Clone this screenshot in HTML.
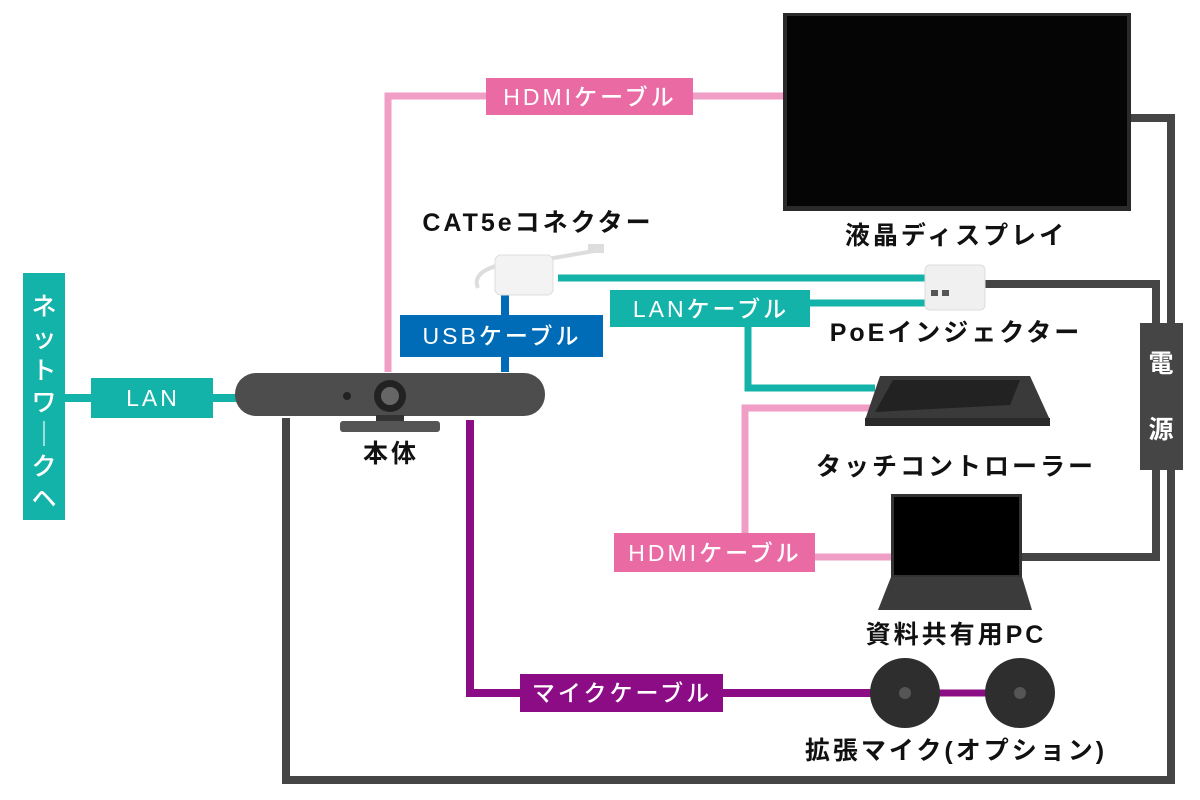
<!DOCTYPE html>
<html><head><meta charset="utf-8"><style>
html,body{margin:0;padding:0;background:#fff;}
svg{display:block;font-family:"Liberation Sans","Noto Sans CJK JP",sans-serif;}
.lb{fill:#fff;font-size:23px;letter-spacing:3px;text-anchor:middle;font-weight:500;}
.bk{fill:#111;font-size:25px;font-weight:bold;text-anchor:middle;letter-spacing:3px;}
</style></head><body>
<svg width="1200" height="800" viewBox="0 0 1200 800">
<polyline points="286,418 286,780 1171,780 1171,118 1128,118" fill="none" stroke="#454545" stroke-width="8"/>
<polyline points="985,284 1156,284 1156,557 1020,557" fill="none" stroke="#454545" stroke-width="8"/>
<line x1="60" y1="398" x2="240" y2="398" stroke="#14b3aa" stroke-width="8"/>
<line x1="558" y1="278" x2="930" y2="278" stroke="#14b3aa" stroke-width="7"/>
<polyline points="930,303 748,303 748,388 875,388" fill="none" stroke="#14b3aa" stroke-width="7"/>
<polyline points="388,372 388,96 786,96" fill="none" stroke="#f19ec6" stroke-width="7"/>
<polyline points="875,408 745,408 745,557 893,557" fill="none" stroke="#f19ec6" stroke-width="7"/>
<line x1="505" y1="285" x2="505" y2="372" stroke="#006cb7" stroke-width="8"/>
<polyline points="470,420 470,693 880,693" fill="none" stroke="#8c0c86" stroke-width="8"/>
<line x1="930" y1="693" x2="1000" y2="693" stroke="#8c0c86" stroke-width="7"/>

<rect x="23" y="273" width="42" height="247" fill="#14b3aa"/>
<text x="44" y="315" class="lb" style="font-size:25px;letter-spacing:0">ネ</text>
<text x="44" y="347" class="lb" style="font-size:25px;letter-spacing:0">ッ</text>
<text x="44" y="379" class="lb" style="font-size:25px;letter-spacing:0">ト</text>
<text x="44" y="411" class="lb" style="font-size:25px;letter-spacing:0">ワ</text>
<text x="44" y="443" class="lb" style="font-size:25px;letter-spacing:0">｜</text>
<text x="44" y="475" class="lb" style="font-size:25px;letter-spacing:0">ク</text>
<text x="44" y="507" class="lb" style="font-size:25px;letter-spacing:0">ヘ</text>
<rect x="91" y="378" width="122" height="40" fill="#14b3aa"/><text x="153" y="406" class="lb">LAN</text>
<rect x="486" y="78" width="207" height="37" fill="#ea6aa4"/><text x="590" y="105" class="lb">HDMIケーブル</text>
<rect x="400" y="315" width="203" height="42" fill="#006cb7"/><text x="502" y="344" class="lb">USBケーブル</text>
<rect x="610" y="290" width="200" height="37" fill="#14b3aa"/><text x="711" y="317" class="lb">LANケーブル</text>
<rect x="614" y="533" width="201" height="39" fill="#ea6aa4"/><text x="715" y="561" class="lb">HDMIケーブル</text>
<rect x="520" y="674" width="203" height="38" fill="#8c0c86"/><text x="622" y="701" class="lb">マイクケーブル</text>
<rect x="1140" y="323" width="43" height="147" fill="#454545"/>
<text x="1161" y="372" class="lb" style="font-size:25px;font-weight:bold;letter-spacing:0">電</text>
<text x="1161" y="438" class="lb" style="font-size:25px;font-weight:bold;letter-spacing:0">源</text>

<rect x="783" y="13" width="348" height="198" fill="#2a2a2a"/>
<rect x="787" y="16" width="340" height="190" fill="#050505"/>
<rect x="235" y="373" width="310" height="43" rx="21" fill="#4d4d4d"/>
<circle cx="390" cy="396" r="16" fill="#222"/><circle cx="390" cy="396" r="9" fill="#666"/>
<circle cx="347" cy="396" r="4" fill="#222"/>
<rect x="376" y="415" width="28" height="8" fill="#333"/>
<rect x="340" y="421" width="100" height="11" rx="3" fill="#555"/>
<path d="M478,288 C470,270 500,262 530,262 L600,250" fill="none" stroke="#ddd" stroke-width="4"/>
<rect x="495" y="255" width="58" height="40" rx="6" fill="#f3f3f3" stroke="#ddd"/>
<rect x="588" y="244" width="16" height="9" fill="#ddd"/>
<rect x="925" y="265" width="60" height="45" rx="5" fill="#f0f0f0" stroke="#ddd"/>
<rect x="931" y="290" width="7" height="6" fill="#555"/><rect x="942" y="290" width="7" height="6" fill="#555"/>
<polygon points="880,376 1030,376 1050,420 865,420" fill="#3a3a3a"/>
<polygon points="893,380 1020,380 1010,405 875,412" fill="#222"/>
<rect x="865" y="418" width="185" height="8" fill="#2a2a2a"/>
<rect x="891" y="494" width="131" height="83" fill="#333"/>
<rect x="894" y="497" width="125" height="78" fill="#000"/>
<polygon points="891,577 1022,577 1032,610 878,610" fill="#3b3b3b"/>
<circle cx="905" cy="693" r="35" fill="#2e2e2e"/><circle cx="905" cy="693" r="6" fill="#555"/>
<circle cx="1020" cy="693" r="35" fill="#2e2e2e"/><circle cx="1020" cy="693" r="6" fill="#555"/>

<text x="538" y="231" class="bk">CAT5eコネクター</text>
<text x="956" y="244" class="bk">液晶ディスプレイ</text>
<text x="956" y="341" class="bk">PoEインジェクター</text>
<text x="956" y="475" class="bk">タッチコントローラー</text>
<text x="956" y="643" class="bk">資料共有用PC</text>
<text x="956" y="759" class="bk">拡張マイク(オプション)</text>
<text x="391" y="462" class="bk">本体</text>
</svg>
</body></html>
